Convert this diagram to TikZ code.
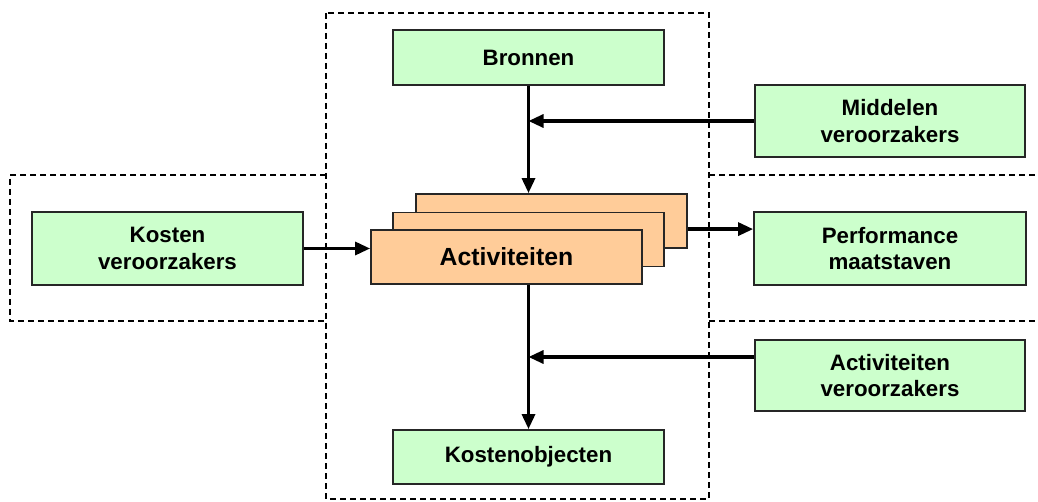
\documentclass[tikz,border=0pt]{standalone}
\usepackage{fontspec}
\setmainfont{Liberation Sans}
\usetikzlibrary{arrows.meta}
\definecolor{greenfill}{HTML}{CCFFCC}
\definecolor{orangefill}{HTML}{FFCC99}
\begin{document}
\begin{tikzpicture}[x=1pt,y=-1pt,
  box/.style={draw=black!85,line width=1.8pt,fill=greenfill,inner sep=0pt,align=center,
    font=\bfseries\fontsize{22.3}{26.5}\selectfont},
  actbox/.style={draw=black!85,line width=1.8pt,fill=orangefill,inner sep=0pt,
    minimum width=271pt,minimum height=54pt,font=\bfseries\fontsize{24.8}{28}\selectfont},
  arr/.style={line width=3.2pt,-{Triangle[length=15pt,width=13pt]}},
  dashline/.style={line width=1.4pt,dash pattern=on 6pt off 4pt}]
\useasboundingbox (0,0) rectangle (1038,502);
% dashed regions
\draw[dashline] (326,13) rectangle (709,499);
\draw[dashline] (326,175) -- (10,175) -- (10,321) -- (326,321);
\draw[dashline] (709,175) -- (1038,175);
\draw[dashline] (709,321) -- (1038,321);
% nodes
\node[box,minimum width=271pt,minimum height=55pt] (bron) at (528.5,57.5) {Bronnen};
\node[box,minimum width=270pt,minimum height=72pt] (mid) at (890,121) {Middelen\\veroorzakers};
\node[box,minimum width=271pt,minimum height=73pt] (kost) at (167.5,248.5) {Kosten\\veroorzakers};
\node[box,minimum width=272pt,minimum height=73pt] (perf) at (890,248.5) {Performance\\maatstaven};
\node[box,minimum width=270pt,minimum height=71pt] (actv) at (890,375.5) {Activiteiten\\veroorzakers};
\node[box,minimum width=271pt,minimum height=54pt] (kobj) at (528.5,457) {Kostenobjecten};
\node[actbox] (act3) at (551.5,221) {};
\node[actbox] (act2) at (528.5,239.5) {};
\node[actbox] (act1) at (506.5,257) {Activiteiten};
% connectors
\draw[arr] (bron.south) -- (bron.south |- act3.north);
\draw[arr] (mid.west) -- (mid.west -| bron.south);
\draw[arr] (kost.east) -- (kost.east -| act1.west);
\draw[arr] (act3.east |- act1.north) -- (perf.west |- act1.north);
\draw[arr] (act1.south -| kobj.north) -- (kobj.north);
\draw[arr] ([yshift=18.5pt]actv.west) -- ([yshift=18.5pt]actv.west -| kobj.north);
\end{tikzpicture}
\end{document}
